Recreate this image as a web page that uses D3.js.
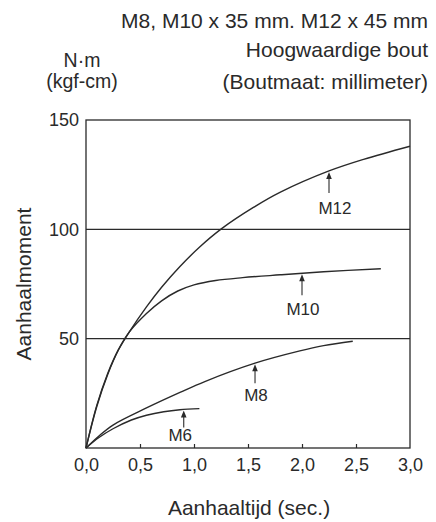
<!DOCTYPE html>
<html><head><meta charset="utf-8">
<script src="https://cdn.jsdelivr.net/npm/d3@7"></script>
<style>
html,body{margin:0;padding:0;background:#fff;}
svg{display:block;font-family:"Liberation Sans",Arial,Helvetica,sans-serif;}
</style></head>
<body>
<svg id="c" width="436" height="522"></svg>
<script>
// ---- data ----
const titleLines = ["M8, M10 x 35 mm. M12 x 45 mm", "Hoogwaardige bout", "(Boutmaat: millimeter)"];
const unitLines = ["N·m", "(kgf-cm)"];
const yAxisTitle = "Aanhaalmoment";
const xAxisTitle = "Aanhaaltijd (sec.)";
const xTicks = [0, 0.5, 1.0, 1.5, 2.0, 2.5, 3.0];
const xTickLabels = ["0,0", "0,5", "1,0", "1,5", "2,0", "2,5", "3,0"];
const yTicks = [50, 100, 150];
const yTickLabels = ["50", "100", "150"];
const seriesNames = ["M12", "M10", "M8", "M6"];
const m12 = [[0,0],[0.1,19],[0.2,33.5],[0.3,44.8],[0.4,53],[0.56,64.5],[0.7,73.5],[0.87,83],[1.05,91.8],[1.256,100.3],[1.55,110],[1.8,117],[2.25,126.7],[2.57,132],[3.0,138]];
const m10 = [[0,0],[0.1,19.5],[0.2,34],[0.3,45],[0.4,53],[0.56,61.5],[0.7,67.3],[0.85,71.8],[1.0,74.6],[1.2,76.6],[1.45,77.9],[1.8,79.2],[2.2,80.6],[2.73,82]];
const m8  = [[0,0],[0.12,5.5],[0.25,10.5],[0.56,18.3],[0.87,25.4],[1.1,30.4],[1.565,38.8],[1.98,44.4],[2.2,46.8],[2.47,48.8]];
const m6  = [[0,0],[0.12,4.8],[0.25,8.8],[0.42,12.8],[0.56,15],[0.72,16.6],[0.87,17.5],[1.05,18]];
const seriesData = [m12, m10, m8, m6];
const arrowAt = [2.25, 2.0, 1.565, 0.905];

// ---- layout ----
const svg = d3.select("#c");
const ink = "#2a2a2a";
const L = 86, R = 410, T = 120, B = 448;
const x = d3.scaleLinear().domain([0, 3]).range([L, R]);
const y = d3.scaleLinear().domain([0, 150]).range([B, T]);

// titles
const tfs = 21;
svg.selectAll("text.title").data(titleLines).join("text")
  .attr("class","title")
  .attr("x", 428).attr("y", (d,i)=>[28, 57, 89][i])
  .attr("text-anchor","end").attr("font-size", tfs).attr("fill", ink)
  .text(d=>d);
svg.selectAll("text.unit").data(unitLines).join("text")
  .attr("class","unit")
  .attr("x", 82).attr("y", (d,i)=>[67, 88][i])
  .attr("text-anchor","middle").attr("font-size", 19.5).attr("fill", ink)
  .text(d=>d);

// gridlines
svg.append("g").selectAll("line").data([50,100]).join("line")
  .attr("x1", L).attr("x2", R).attr("y1", d=>y(d)).attr("y2", d=>y(d))
  .attr("stroke", ink).attr("stroke-width", 1.2);

// frame
svg.append("rect").attr("x", L).attr("y", T).attr("width", R-L).attr("height", B-T)
  .attr("fill","none").attr("stroke", ink).attr("stroke-width", 1.3);

// x axis (ticks inward)
const xAxis = d3.axisBottom(x).tickValues(xTicks).tickSize(-4)
  .tickFormat((d,i)=>xTickLabels[i]).tickPadding(10);
const gx = svg.append("g").attr("transform", `translate(0,${B})`).call(xAxis);
gx.select(".domain").remove();
gx.selectAll(".tick line").attr("stroke", ink).attr("stroke-width", 1.2)
  .filter(d=>d===0||d===3).remove();
gx.selectAll(".tick text").attr("font-size", 18).attr("fill", ink)
  .attr("font-family","Liberation Sans, Arial, sans-serif");

// y axis
const yAxis = d3.axisLeft(y).tickValues(yTicks).tickSize(0)
  .tickFormat((d,i)=>yTickLabels[i]).tickPadding(7);
const gy = svg.append("g").attr("transform", `translate(${L},0)`).call(yAxis);
gy.select(".domain").remove();
gy.selectAll(".tick text").attr("font-size", 18).attr("fill", ink)
  .attr("font-family","Liberation Sans, Arial, sans-serif");

// axis titles
svg.append("text").attr("transform","translate(31,284) rotate(-90)")
  .attr("text-anchor","middle").attr("font-size", tfs).attr("fill", ink).text(yAxisTitle);
svg.append("text").attr("x", 249).attr("y", 515)
  .attr("text-anchor","middle").attr("font-size", tfs).attr("fill", ink).text(xAxisTitle);

// curves
const line = d3.line().x(d=>x(d[0])).y(d=>y(d[1])).curve(d3.curveCatmullRom.alpha(0.5));
const paths = svg.append("g").selectAll("path").data(seriesData).join("path")
  .attr("d", line).attr("fill","none").attr("stroke", ink).attr("stroke-width", 1.4);

// arrows + labels
const arrowLen = [22, 22, 20, 18];
const labelGap = [21, 20, 18, 14];
const labelDx = [6, 1, 1, -3.5];
const ag = svg.append("g");
paths.each(function(d, i){
  const p = this, len = p.getTotalLength(), tx = x(arrowAt[i]);
  let lo = 0, hi = len;
  for (let k=0;k<40;k++){ const m=(lo+hi)/2; if (p.getPointAtLength(m).x < tx) lo=m; else hi=m; }
  const pt = p.getPointAtLength((lo+hi)/2);
  const tail = pt.y + arrowLen[i];
  ag.append("line").attr("x1", tx).attr("x2", tx).attr("y1", pt.y+6).attr("y2", tail)
    .attr("stroke", ink).attr("stroke-width", 1.1);
  ag.append("path").attr("d", `M${tx},${pt.y+1} L${tx-2.8},${pt.y+8} L${tx+2.8},${pt.y+8} Z`).attr("fill", ink);
  ag.append("text").attr("x", tx+labelDx[i]).attr("y", tail+labelGap[i]).attr("text-anchor","middle")
    .attr("font-size", 17).attr("fill", ink).text(seriesNames[i]);
});
</script>
</body></html>
